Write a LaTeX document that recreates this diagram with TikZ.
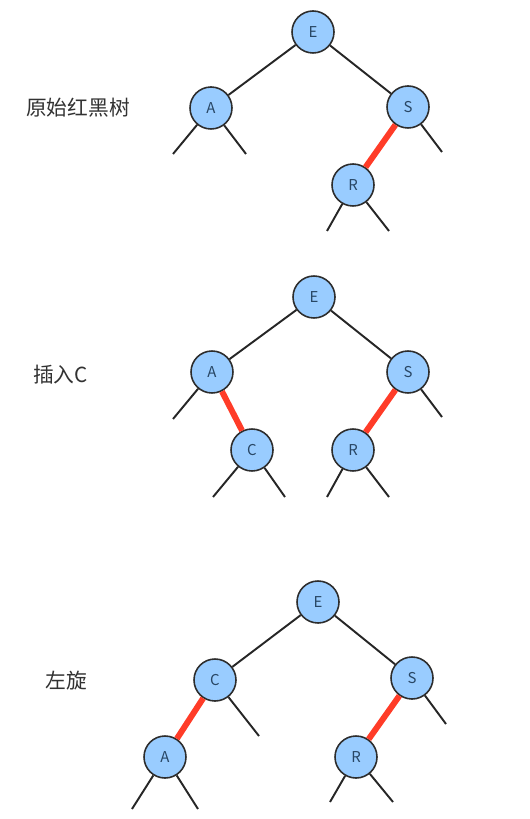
\documentclass[tikz,border=0pt]{standalone}
\usepackage{fontspec}
\usepackage{tikz}
\usetikzlibrary{positioning,calc}
\newfontfamily\cjk{Noto Sans CJK SC}
\definecolor{nodefill}{RGB}{153,204,255}
\definecolor{nodeline}{RGB}{45,45,45}
\definecolor{nodetext}{RGB}{40,70,100}
\definecolor{redlink}{RGB}{255,60,40}
\definecolor{titleclr}{RGB}{50,50,50}

\tikzset{
  rbnode/.style={circle, draw=nodeline, line width=0.9pt, fill=nodefill, minimum size=0.84cm,
                 inner sep=0pt, font=\cjk\fontsize{8.5}{10}\selectfont, text=nodetext},
  blacklink/.style={draw=black!85, line width=1.1pt},
  redlinkstyle/.style={draw=redlink, line width=3.4pt},
  steptitle/.style={font=\cjk\fontsize{11.8}{14}\selectfont, text=titleclr}
}

\begin{document}
\begin{tikzpicture}
  \useasboundingbox (0,0) rectangle (10.58,-16.38);
  % 原始红黑树
  \node[steptitle] (title1) at (1.56,-2.16) {原始红黑树};
  \node[rbnode] (E1) at (6.26,-0.64) {E};
  \node[rbnode] (A1) at (4.22,-2.16) {A};
  \node[rbnode] (S1) at (8.16,-2.14) {S};
  \node[rbnode] (R1) at (7.06,-3.70) {R};
  \coordinate (a1l) at (3.46,-3.08);
  \coordinate (a1r) at (4.92,-3.08);
  \coordinate (s1r) at (8.84,-3.04);
  \coordinate (r1l) at (6.54,-4.62);
  \coordinate (r1r) at (7.78,-4.62);
  \draw[blacklink] (E1) -- (A1);
  \draw[blacklink] (E1) -- (S1);
  \draw[redlinkstyle] (S1) -- (R1);
  \draw[blacklink] (A1) -- (a1l);
  \draw[blacklink] (A1) -- (a1r);
  \draw[blacklink] (S1) -- (s1r);
  \draw[blacklink] (R1) -- (r1l);
  \draw[blacklink] (R1) -- (r1r);
  % 插入C
  \node[steptitle] (title2) at (1.21,-7.50) {插入C};
  \node[rbnode] (E2) at (6.28,-5.94) {E};
  \node[rbnode] (A2) at (4.24,-7.44) {A};
  \node[rbnode] (S2) at (8.16,-7.44) {S};
  \node[rbnode] (C2) at (5.04,-9.00) {C};
  \node[rbnode] (R2) at (7.06,-9.00) {R};
  \coordinate (a2l) at (3.46,-8.38);
  \coordinate (s2r) at (8.84,-8.34);
  \coordinate (c2l) at (4.26,-9.94);
  \coordinate (c2r) at (5.70,-9.94);
  \coordinate (r2l) at (6.54,-9.94);
  \coordinate (r2r) at (7.78,-9.94);
  \draw[blacklink] (E2) -- (A2);
  \draw[blacklink] (E2) -- (S2);
  \draw[redlinkstyle] (A2) -- (C2);
  \draw[redlinkstyle] (S2) -- (R2);
  \draw[blacklink] (A2) -- (a2l);
  \draw[blacklink] (S2) -- (s2r);
  \draw[blacklink] (C2) -- (c2l);
  \draw[blacklink] (C2) -- (c2r);
  \draw[blacklink] (R2) -- (r2l);
  \draw[blacklink] (R2) -- (r2r);
  % 左旋
  \node[steptitle] (title3) at (1.33,-13.62) {左旋};
  \node[rbnode] (E3) at (6.36,-12.04) {E};
  \node[rbnode] (C3) at (4.30,-13.60) {C};
  \node[rbnode] (S3) at (8.24,-13.56) {S};
  \node[rbnode] (A3) at (3.30,-15.14) {A};
  \node[rbnode] (R3) at (7.12,-15.14) {R};
  \coordinate (c3r) at (5.18,-14.72);
  \coordinate (s3r) at (8.92,-14.48);
  \coordinate (a3l) at (2.64,-16.18);
  \coordinate (a3r) at (3.96,-16.18);
  \coordinate (r3l) at (6.60,-16.04);
  \coordinate (r3r) at (7.86,-16.04);
  \draw[blacklink] (E3) -- (C3);
  \draw[blacklink] (E3) -- (S3);
  \draw[redlinkstyle] (C3) -- (A3);
  \draw[redlinkstyle] (S3) -- (R3);
  \draw[blacklink] (C3) -- (c3r);
  \draw[blacklink] (S3) -- (s3r);
  \draw[blacklink] (A3) -- (a3l);
  \draw[blacklink] (A3) -- (a3r);
  \draw[blacklink] (R3) -- (r3l);
  \draw[blacklink] (R3) -- (r3r);
\end{tikzpicture}
\end{document}
